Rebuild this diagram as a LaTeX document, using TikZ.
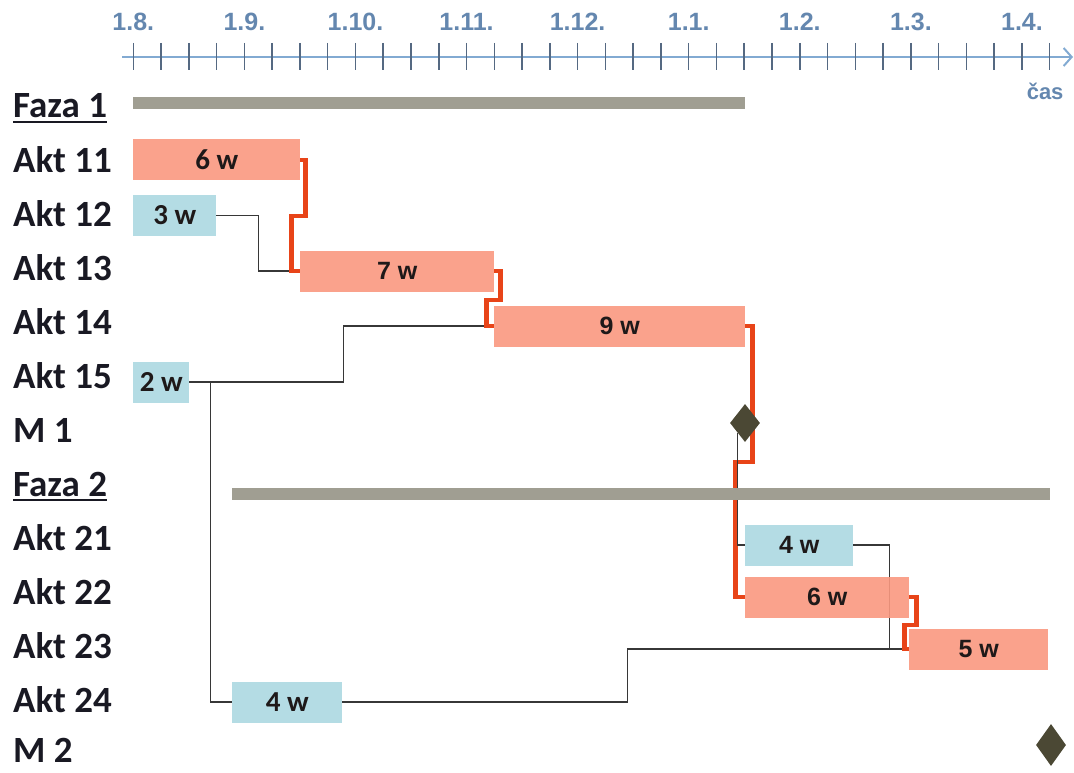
\documentclass[tikz,border=0pt]{standalone}
\usepackage{fontspec}
\setmainfont{Carlito}
\newfontfamily\arialf{Liberation Sans}
\usetikzlibrary{shapes.geometric,arrows.meta}
\definecolor{barO}{RGB}{250,152,128}
\definecolor{barB}{RGB}{180,220,228}
\definecolor{barG}{RGB}{160,158,146}
\definecolor{critR}{RGB}{232,68,24}
\definecolor{msC}{RGB}{75,72,52}
\definecolor{axC}{RGB}{130,170,210}
\definecolor{tickC}{RGB}{85,105,130}
\definecolor{axT}{RGB}{100,135,175}
\definecolor{lblC}{RGB}{25,25,35}
\definecolor{linkC}{RGB}{55,55,55}
\definecolor{barT}{RGB}{30,25,25}
\pgfdeclarelayer{back}
\pgfsetlayers{back,main}
\tikzset{
 rowlbl/.style={anchor=base west, inner sep=0, font=\fontsize{37}{42}\selectfont\bfseries, text=lblC},
 bar/.style={anchor=west, inner sep=0, minimum height=41, text=barT},
 obar/.style={bar, fill=barO, fill opacity=0.9, text opacity=1},
 bbar/.style={bar, fill=barB},
 gbar/.style={anchor=west, inner sep=0, minimum height=12, fill=barG},
 cfont/.style={font=\fontsize{29}{32}\selectfont\bfseries},
 afont/.style={font=\arialf\fontsize{25}{28}\selectfont\bfseries},
 link/.style={draw=linkC, line width=1.3},
 crit/.style={draw=critR, line width=4.5},
 mstone/.style={diamond, fill=msC, inner sep=0, minimum width=30, minimum height=38},
 datelbl/.style={font=\arialf\fontsize{25}{28}\selectfont\bfseries, text=axT},
}
\begin{document}
\begin{tikzpicture}[x=1pt,y=-1pt]
\useasboundingbox (0,0) rectangle (1074,773);
% time axis
\coordinate (ax0) at (122,57);
\coordinate (ax1) at (1073,57);
\draw[draw=axC, line width=2, -{Straight Barb[length=8pt,width=18pt]}] (ax0) -- (ax1);
\foreach \i in {0,...,33}
  \draw[tickC, line width=1.5] ({133.3+27.77*\i},43) -- ({133.3+27.77*\i},70);
\foreach \lab [count=\k from 0] in {1.8.,1.9.,1.10.,1.11.,1.12.,1.1.,1.2.,1.3.,1.4.}
  \node[datelbl] (d\k) at ({133.3+111.08*\k},22) {\lab};
\node[datelbl, font=\arialf\fontsize{22}{24}\selectfont\bfseries, anchor=east] (cas) at (1067,91) {čas};
% row labels
\foreach \t [count=\k from 0] in {Faza 1,Akt 11,Akt 12,Akt 13,Akt 14,Akt 15,M 1,Faza 2,Akt 21,Akt 22,Akt 23,Akt 24}
  \node[rowlbl] (l\k) at (13,{118+54*\k}) {\t};
\node[rowlbl] (l12) at (13,762) {M 2};
\draw[lblC, line width=2.5] ([yshift=-4pt]l0.base west) -- ([yshift=-4pt]l0.base east);
\draw[lblC, line width=2.5] ([yshift=-4pt]l7.base west) -- ([yshift=-4pt]l7.base east);
% phase bars
\node[gbar, minimum width=612] (f1) at (133,103.5) {};
\node[gbar, minimum width=818] (f2) at (232,493.5) {};
% activity bars
\node[obar,cfont,minimum width=167] (a11) at (133,160) {6 w};
\node[bbar,cfont,minimum width=83] (a12) at (133,215.5) {3 w};
\node[obar,afont,minimum width=194] (a13) at (300,271) {7 w};
\node[obar,afont,minimum width=251] (a14) at (494,326) {9 w};
\node[bbar,cfont,minimum width=56] (a15) at (133,382) {2 w};
\node[bbar,afont,minimum width=108] (a21) at (745,545) {4 w};
\node[obar,afont,minimum width=164] (a22) at (745,597) {6 w};
\node[obar,afont,minimum width=139] (a23) at (909,649) {5 w};
\node[bbar,cfont,minimum width=110] (a24) at (232,702) {4 w};
% milestones
\node[mstone] (m1) at (745,423) {};
\node[mstone, minimum height=42] (m2) at (1051,745) {};
% dependencies
\begin{pgfonlayer}{back}
\draw[link] (a12.east) -- ++(42,0) |- (a13.west);
\draw[link] (a15.east) -- ++(154,0) |- (a14.west);
\draw[link] (a15.east) -- ++(21,0) |- (a24.west);
\draw[link] (a24.east) -- ++(285,0) |- (a23.west);
\draw[link] (a21.east) -- ++(36,0) |- (a23.west);
\draw[crit] (a11.east) -- ++(5,0) -- ++(0,56) -- ++(-14,0) |- (a13.west);
\draw[crit] (a13.east) -- ++(6,0) -- ++(0,29) -- ++(-14,0) |- (a14.west);
\draw[crit] (a14.east) -- ++(7,0) -- ++(0,136) -- ++(-17,0) |- (a22.west);
\draw[crit] (a22.east) -- ++(7,0) -- ++(0,28) -- ++(-12,0) |- (a23.west);
\draw[link] (m1.south west) |- (a21.west);
\end{pgfonlayer}
\end{tikzpicture}
\end{document}
